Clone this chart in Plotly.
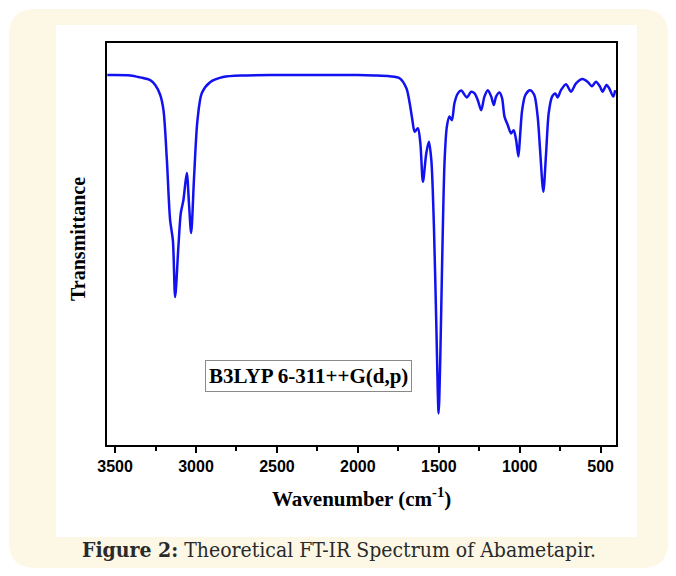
import plotly.graph_objects as go

# ---- data ----
wavenumber = [3548, 3406, 3345, 3283, 3252, 3221, 3201, 3180, 3160, 3143, 3129,
              3109, 3094, 3078, 3057, 3043, 3030, 3012, 2991, 2964, 2913, 2833,
              2700, 2500, 2200, 2000, 1900, 1804, 1742, 1700, 1680, 1663, 1649,
              1629, 1614, 1598, 1577, 1561, 1546, 1530, 1515, 1501, 1491, 1479,
              1464, 1450, 1434, 1419, 1403, 1382, 1361, 1327, 1300, 1279, 1259,
              1238, 1218, 1197, 1176, 1160, 1146, 1125, 1109, 1094, 1074, 1053,
              1037, 1022, 1008, 998, 985, 965, 936, 910, 889, 874, 854, 837, 821,
              800, 780, 766, 745, 714, 683, 652, 612, 581, 554, 529, 504, 488,
              464, 447, 422, 410]
transmittance = [92.5, 92.4, 91.9, 91.2, 90.0, 87.5, 83.7, 71.2, 56.2, 51.2, 37.0,
                 49.5, 58.0, 61.2, 68.0, 60.0, 53.0, 67.0, 81.2, 88.0, 90.7, 92.0,
                 92.4, 92.5, 92.5, 92.5, 92.4, 92.2, 91.7, 89.2, 85.5, 81.2, 78.3,
                 79.2, 75.5, 65.8, 73.0, 75.8, 71.2, 54.6, 29.6, 7.9, 21.2, 46.2,
                 71.2, 79.6, 82.1, 81.2, 85.5, 87.9, 88.6, 86.9, 88.3, 87.9, 86.2,
                 83.7, 87.1, 88.7, 87.1, 85.0, 87.1, 88.1, 86.7, 82.1, 80.0, 77.9,
                 78.7, 76.2, 72.1, 77.1, 83.7, 87.5, 88.7, 87.5, 82.1, 73.7, 63.3,
                 72.9, 82.9, 87.1, 87.9, 86.9, 88.7, 90.2, 88.3, 90.4, 91.5, 90.8,
                 89.7, 90.8, 89.6, 88.3, 90.0, 89.2, 87.1, 88.7]
x_ticks = [3500, 3000, 2500, 2000, 1500, 1000, 500]
x_tick_labels = ["3500", "3000", "2500", "2000", "1500", "1000", "500"]

# ---- layout geometry (screen pixels; page body adds an 8px offset) ----
OFF = 8
W, H = 676 - OFF, 576 - OFF
L, R, T, B = 107, 616, 43, 445   # plot frame on screen


def px(x):
    return (x - L) / (R - L)


def py(y):
    return (B - y) / (B - T)


def rounded_path(x0, y0, x1, y1, r):
    rx = r / (R - L)
    ry = r / (B - T)
    a, b, c, d = px(x0), py(y1), px(x1), py(y0)  # left, bottom, right, top
    return (f"M {a + rx},{b} L {c - rx},{b} Q {c},{b} {c},{b + ry} "
            f"L {c},{d - ry} Q {c},{d} {c - rx},{d} L {a + rx},{d} "
            f"Q {a},{d} {a},{d - ry} L {a},{b + ry} Q {a},{b} {a + rx},{b} Z")


fig = go.Figure()
fig.add_trace(go.Scatter(
    x=wavenumber, y=transmittance, mode="lines",
    line=dict(color="rgb(18,18,240)", width=2.5, shape="spline", smoothing=0.8),
    showlegend=False, hoverinfo="skip"))

shapes = [
    dict(type="path", xref="paper", yref="paper",
         path=rounded_path(9, 9, 668, 568, 26),
         fillcolor="#fdf8e6", line=dict(width=0), layer="below"),
    dict(type="rect", xref="paper", yref="paper",
         x0=px(56), x1=px(637), y0=py(537), y1=py(25),
         fillcolor="white", line=dict(width=0), layer="below"),
]

serif = "Liberation Serif, Times New Roman, serif"
annotations = [
    dict(text="<b>Wavenumber (cm<sup>-1</sup>)</b>", xref="paper", yref="paper",
         x=px(361), y=py(497), showarrow=False,
         font=dict(family=serif, size=21, color="black"),
         xanchor="center", yanchor="middle"),
    dict(text="<b>Transmittance</b>", xref="paper", yref="paper",
         x=px(78), y=py(239), showarrow=False, textangle=-90,
         font=dict(family=serif, size=20, color="black"),
         xanchor="center", yanchor="middle"),
    dict(text="<b>B3LYP 6-311++G(d,p)</b>", xref="paper", yref="paper",
         x=px(308), y=py(376), showarrow=False,
         font=dict(family=serif, size=21, color="black"),
         xanchor="center", yanchor="middle",
         bordercolor="#8a8a8a", borderwidth=1, borderpad=3, bgcolor="white"),
    dict(text="<b>Figure 2:</b> Theoretical FT-IR Spectrum of Abametapir.",
         xref="paper", yref="paper", x=px(339), y=py(549), showarrow=False,
         font=dict(family="DejaVu Serif Condensed, DejaVu Serif, serif",
                   size=21, color="#2a2a2a"),
         xanchor="center", yanchor="middle"),
]

fig.update_layout(
    width=W, height=H,
    margin=dict(l=L - OFF, r=W - (R - OFF), t=T - OFF, b=H - (B - OFF), pad=0),
    paper_bgcolor="white", plot_bgcolor="rgba(0,0,0,0)",
    shapes=shapes, annotations=annotations,
    xaxis=dict(range=[3550, 405], tickmode="array", tickvals=x_ticks,
               ticktext=x_tick_labels, ticks="outside", ticklen=6, tickwidth=1.5,
               tickcolor="black",
               minor=dict(dtick=250, tick0=250, ticks="outside", ticklen=4,
                          tickwidth=1.5, tickcolor="black", showgrid=False),
               showgrid=False, zeroline=False, showline=True, linecolor="black",
               linewidth=1.5, mirror=True,
               tickfont=dict(family="Liberation Sans, Arial, sans-serif",
                             size=16, color="black", weight="bold")),
    yaxis=dict(range=[0, 100.5], showticklabels=False, ticks="", showgrid=False,
               zeroline=False, showline=True, linecolor="black", linewidth=1.5,
               mirror=True),
)

fig.write_html("out.html")
